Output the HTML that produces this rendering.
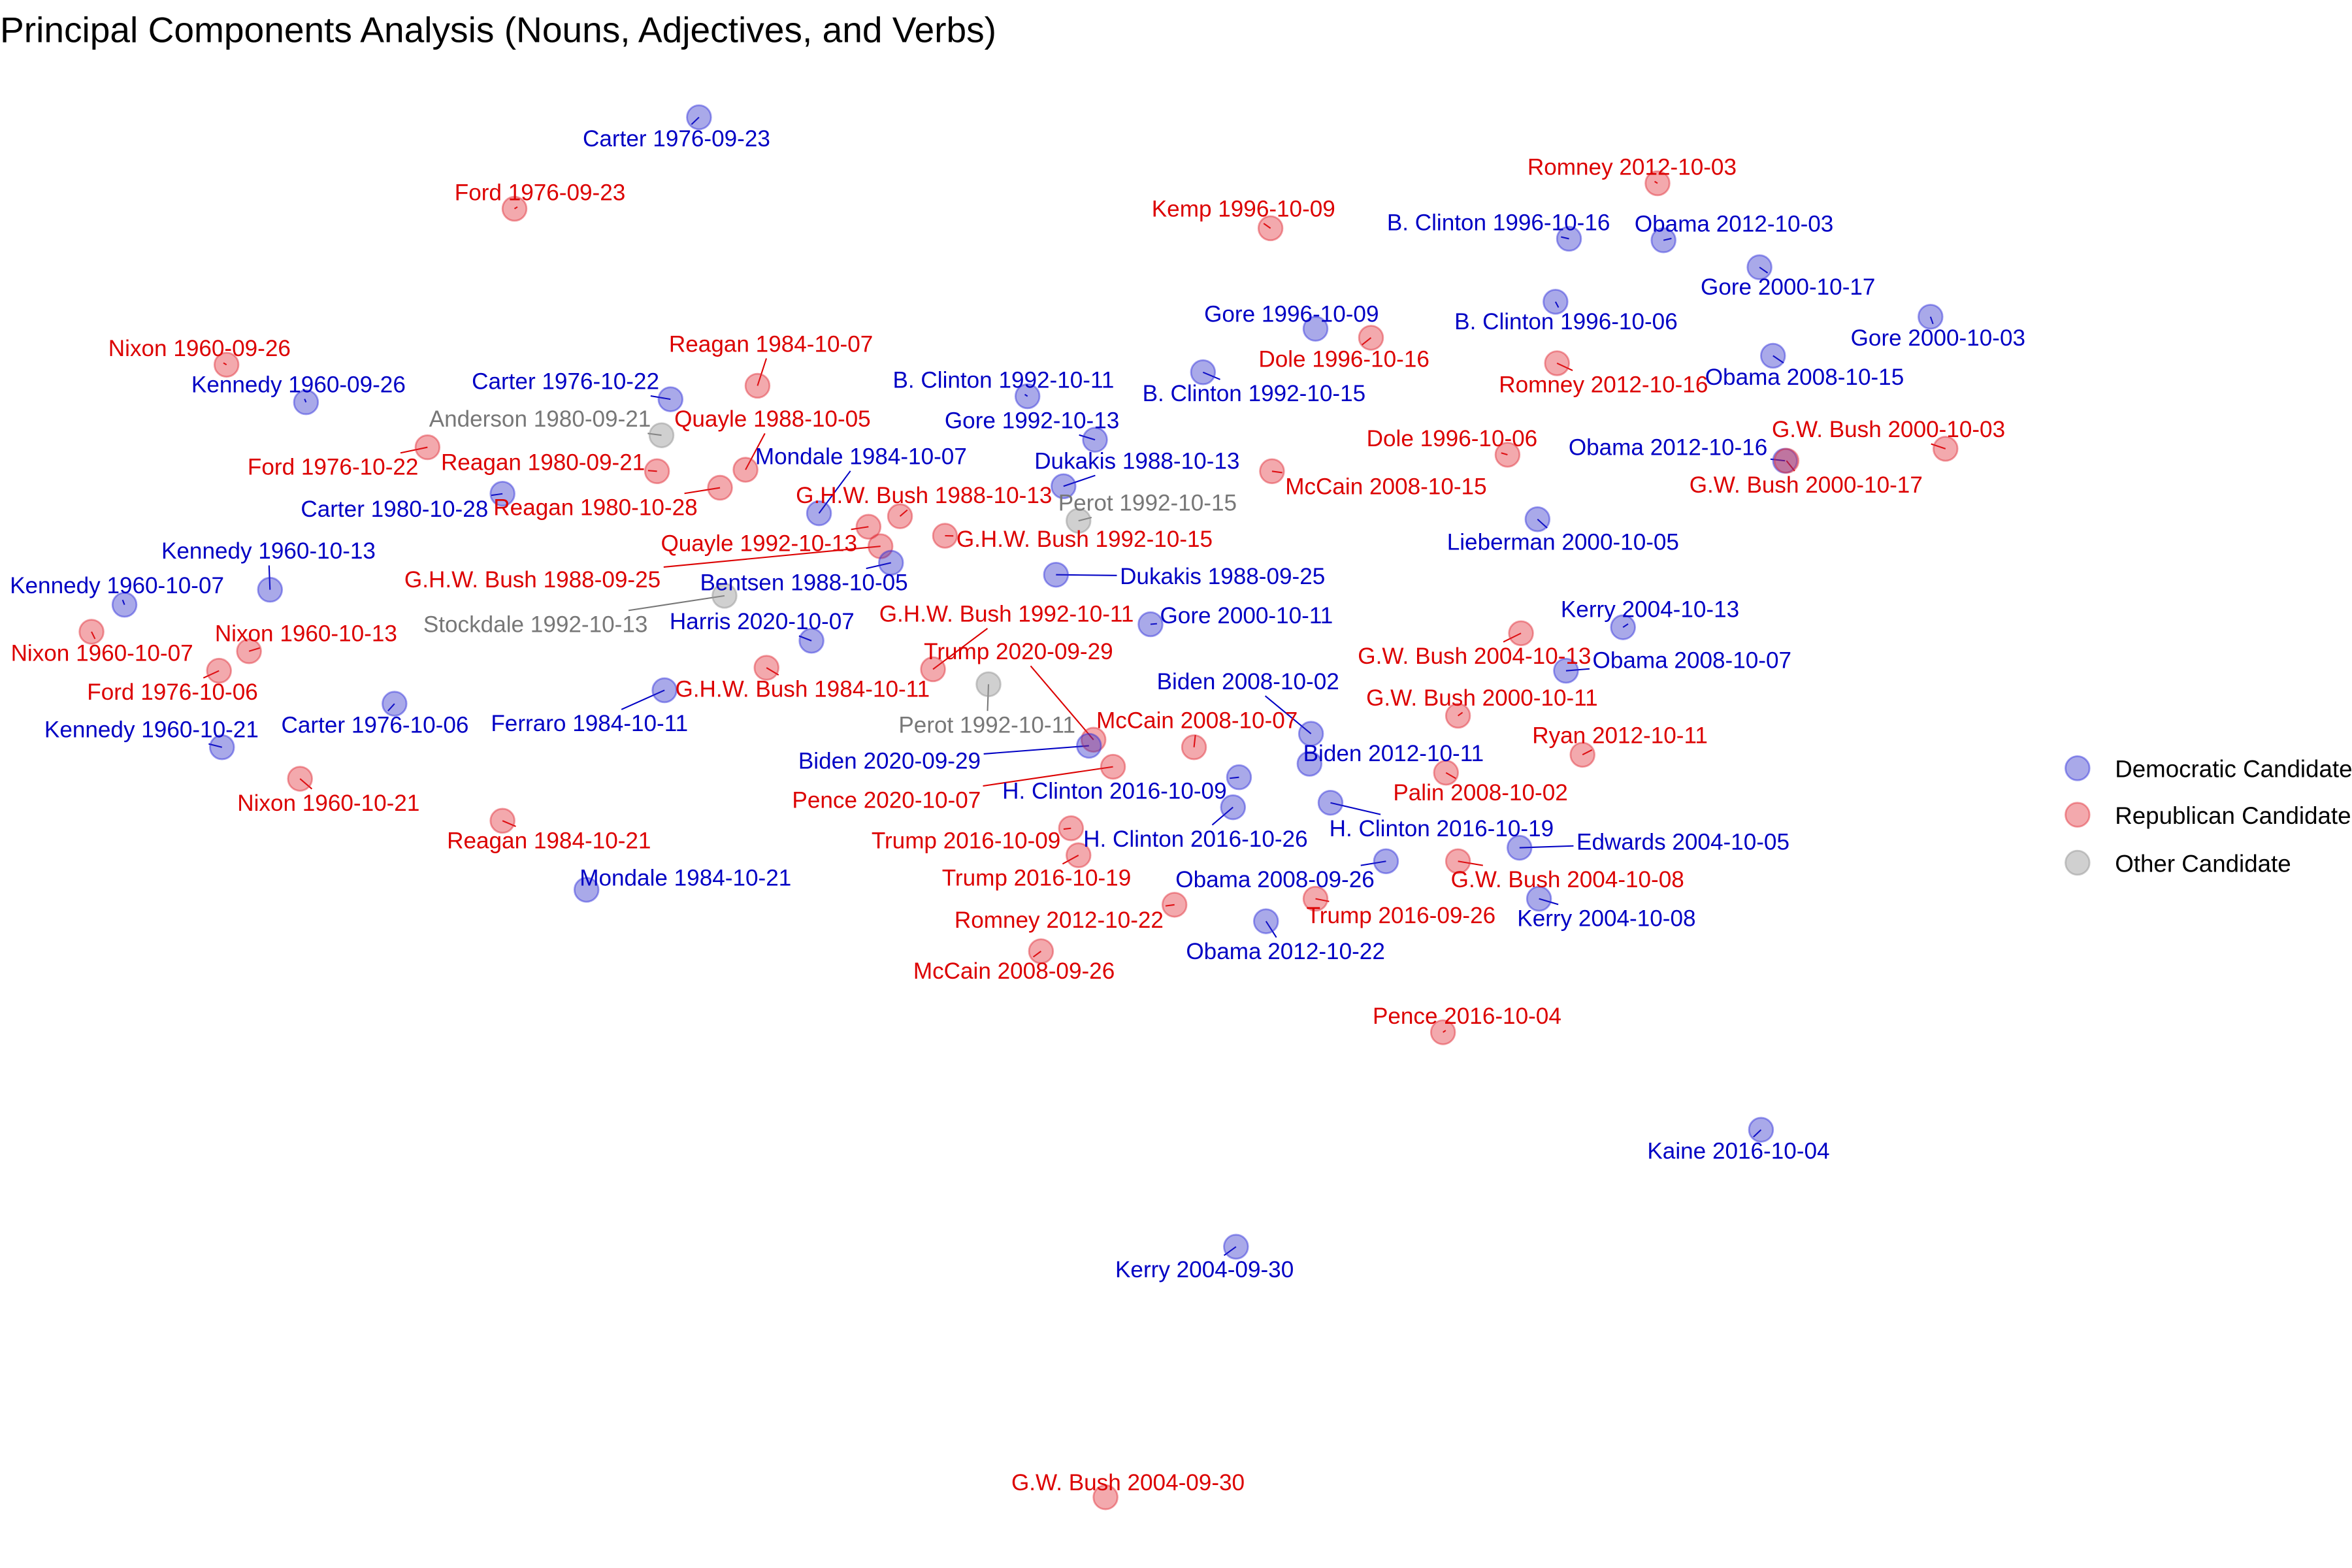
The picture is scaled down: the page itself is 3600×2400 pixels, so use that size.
<!DOCTYPE html>
<html><head><meta charset="utf-8"><style>
html,body{margin:0;padding:0;background:#fff;width:3600px;height:2400px;overflow:hidden}
svg{display:block;font-family:"Liberation Sans",Arial,sans-serif}
</style></head><body>
<svg id="chart" width="3600" height="2400" viewBox="0 0 1568 1045" xmlns="http://www.w3.org/2000/svg">
<rect width="1568" height="1045" fill="#fff"/>
<text x="0" y="28" font-size="24" fill="#000">Principal Components Analysis (Nouns, Adjectives, and Verbs)</text>
<g id="segs"></g><g id="pts"></g><g id="labs"></g>
<g>
<circle cx="1385" cy="512" r="8" fill="rgba(40,40,200,0.4)" stroke="rgba(40,40,220,0.45)" stroke-width="1.2"/>
<text x="1410" y="518" font-size="16">Democratic Candidate</text>
<circle cx="1385" cy="543" r="8" fill="rgba(225,40,50,0.4)" stroke="rgba(225,40,50,0.45)" stroke-width="1.2"/>
<text x="1410" y="549" font-size="16">Republican Candidate</text>
<circle cx="1385" cy="575" r="8" fill="rgba(150,150,150,0.45)" stroke="rgba(150,150,150,0.5)" stroke-width="1.2"/>
<text x="1410" y="581" font-size="16">Other Candidate</text>
</g>
</svg>
<script>
const names=["Carter 1976-09-23","Ford 1976-09-23","Romney 2012-10-03","Kemp 1996-10-09","B. Clinton 1996-10-16","Obama 2012-10-03","Gore 2000-10-17","Gore 2000-10-03","B. Clinton 1996-10-06","Gore 1996-10-09","Dole 1996-10-16","Obama 2008-10-15","Romney 2012-10-16","Nixon 1960-09-26","Kennedy 1960-09-26","B. Clinton 1992-10-11","B. Clinton 1992-10-15","Reagan 1984-10-07","Carter 1976-10-22","Anderson 1980-09-21","Quayle 1988-10-05","Gore 1992-10-13","Ford 1976-10-22","Reagan 1980-09-21","Mondale 1984-10-07","Dukakis 1988-10-13","Dole 1996-10-06","Obama 2012-10-16","G.W. Bush 2000-10-03","G.W. Bush 2000-10-17","McCain 2008-10-15","Carter 1980-10-28","Reagan 1980-10-28","G.H.W. Bush 1988-10-13","Perot 1992-10-15","Quayle 1992-10-13","G.H.W. Bush 1992-10-15","Lieberman 2000-10-05","Kennedy 1960-10-13","G.H.W. Bush 1988-09-25","Dukakis 1988-09-25","Bentsen 1988-10-05","Kennedy 1960-10-07","Stockdale 1992-10-13","Harris 2020-10-07","Gore 2000-10-11","G.H.W. Bush 1992-10-11","Kerry 2004-10-13","Nixon 1960-10-07","Nixon 1960-10-13","G.W. Bush 2004-10-13","Trump 2020-09-29","Obama 2008-10-07","Ford 1976-10-06","G.H.W. Bush 1984-10-11","Ferraro 1984-10-11","Perot 1992-10-11","G.W. Bush 2000-10-11","Carter 1976-10-06","McCain 2008-10-07","Biden 2008-10-02","Kennedy 1960-10-21","Ryan 2012-10-11","Biden 2020-09-29","Biden 2012-10-11","Pence 2020-10-07","Nixon 1960-10-21","H. Clinton 2016-10-09","Palin 2008-10-02","H. Clinton 2016-10-26","H. Clinton 2016-10-19","Reagan 1984-10-21","Trump 2016-10-09","Edwards 2004-10-05","Trump 2016-10-19","Obama 2008-09-26","G.W. Bush 2004-10-08","Mondale 1984-10-21","Kerry 2004-10-08","Trump 2016-09-26","Romney 2012-10-22","Obama 2012-10-22","McCain 2008-09-26","Pence 2016-10-04","Kaine 2016-10-04","Kerry 2004-09-30","G.W. Bush 2004-09-30"];
const party=("DRRRDDDDDD"+"RDRRDDDRDO"+"RDRRDDRDRR"+"RDRRORRDDR"+"DDDODDRDRR"+"RRDRRDORDR"+"DDRDDRRDRD"+"DRRDRDRDDR"+"RDRRDDR").split("");
const pc1=[-2.34,-3.57,4.05,1.47,3.46,4.09,4.73,5.87,3.37,1.77,2.14,4.82,3.38,-5.49,-4.96,-0.15,1.02,-1.95,-2.53,-2.59,-2.03,0.30,-4.15,-2.62,-1.54,0.09,3.05,4.90,5.97,4.91,1.48,-3.65,-2.20,-1.00,0.19,-1.21,-0.70,3.25,-5.20,-1.13,0.04,-1.06,-6.17,-2.17,-1.59,0.67,-0.78,3.82,-6.39,-5.34,3.14,0.29,3.44,-5.54,-1.89,-2.57,-0.41,2.72,-4.37,0.96,1.74,-5.52,3.55,0.26,1.73,0.42,-5.00,1.26,2.64,1.22,1.87,-3.65,0.14,3.13,0.19,2.24,2.72,-3.09,3.26,1.77,0.83,1.44,-0.06,2.62,4.74,1.24,0.37];
const pc2=[5.22,4.61,4.78,4.48,4.41,4.40,4.22,3.89,3.99,3.81,3.75,3.63,3.58,3.57,3.32,3.36,3.52,3.43,3.34,3.10,2.87,3.07,3.02,2.86,2.58,2.76,2.97,2.93,3.01,2.93,2.86,2.71,2.75,2.56,2.53,2.49,2.43,2.54,2.07,2.36,2.17,2.25,1.97,2.03,1.73,1.84,1.54,1.82,1.79,1.66,1.78,1.07,1.53,1.53,1.55,1.40,1.44,1.23,1.31,1.02,1.11,1.02,0.97,1.03,0.91,0.89,0.81,0.82,0.85,0.62,0.65,0.53,0.48,0.35,0.30,0.26,0.26,0.07,0.01,0.01,-0.03,-0.14,-0.34,-0.88,-1.53,-2.31,-3.98];
// label layout offsets (px, in 1568-wide frame)
const labDx=[-15,17,-17,-18,-47,47,19,5,7,-16,-18,21,31,-18,-5,-16,34,9,-70,-81,18,-42,-63,-76,28,49,-37,-78,-38,13,76,-72,-83,16,46,-73,93,17,-1,-232,111,-58,-5,-126,-33,64,49,18,7,38,-31,-50,84,-31,24,-50,-1,16,-13,2,-42,-47,25,-133,56,-151,19,-83,23,-25,74,31,-70,109,-28,-74,73,66,45,57,-77,13,-18,16,-15,-21,15];
const labDy=[14,-11,-11,-13,-11,-11,13,14,13,-10,14,14,14,-11,-12,-11,14,-28,-12,-11,-34,-13,13,-6,-38,-17,-11,-9,-13,16,10,10,13,-14,-12,11,2,15,-26,22,1,13,-13,19,-13,-6,-37,-12,14,-12,15,-59,-7,14,14,22,27,-12,14,-18,-35,-12,-13,10,-7,22,16,9,13,21,17,13,8,-4,15,12,12,-8,13,11,10,20,13,-11,14,15,-10];
const xS=v=>700+v*100, yS=v=>600-v*100;
const NS="http://www.w3.org/2000/svg";
const fills={D:"rgba(40,40,200,0.4)",R:"rgba(225,40,50,0.4)",O:"rgba(150,150,150,0.45)"};
const strokes={D:"rgba(40,40,220,0.45)",R:"rgba(225,40,50,0.45)",O:"rgba(150,150,150,0.5)"};
const tcol={D:"#0000c4",R:"#dc0000",O:"#777777"};
const gS=document.getElementById("segs"),gP=document.getElementById("pts"),gL=document.getElementById("labs");
names.forEach((n,i)=>{
  const p=party[i],cx=xS(pc1[i]),cy=yS(pc2[i]),lx=cx+labDx[i],ly=cy+labDy[i];
  const c=document.createElementNS(NS,"circle");
  c.setAttribute("cx",cx);c.setAttribute("cy",cy);c.setAttribute("r",8);
  c.setAttribute("fill",fills[p]);c.setAttribute("stroke",strokes[p]);c.setAttribute("stroke-width",1.2);
  
  
  gP.appendChild(c);
  const t=document.createElementNS(NS,"text");
  t.setAttribute("x",lx);t.setAttribute("y",ly+5.3);t.setAttribute("text-anchor","middle");
  t.setAttribute("font-size","15.3");t.setAttribute("fill",tcol[p]);t.textContent=n;
  
  
  gL.appendChild(t);
  const b=t.getBBox();
  const hw=b.width/2+2, hh=b.height/2+1;
  const mx=b.x+b.width/2, my=b.y+b.height/2;
  const dx=mx-cx, dy=my-cy;
  const tx=Math.abs(dx)>0.01?(Math.abs(dx)-hw)/Math.abs(dx):0;
  const ty=Math.abs(dy)>0.01?(Math.abs(dy)-hh)/Math.abs(dy):0;
  const tt=Math.max(tx,ty,0);
  const ex=cx+dx*tt, ey=cy+dy*tt;
  if(Math.hypot(ex-cx,ey-cy)>1.5){
    const l=document.createElementNS(NS,"line");
    l.setAttribute("x1",cx);l.setAttribute("y1",cy);l.setAttribute("x2",ex);l.setAttribute("y2",ey);
    l.setAttribute("stroke",tcol[p]);l.setAttribute("stroke-width",0.9);
    
    
    gS.appendChild(l);
  }
});
</script>
</body></html>
